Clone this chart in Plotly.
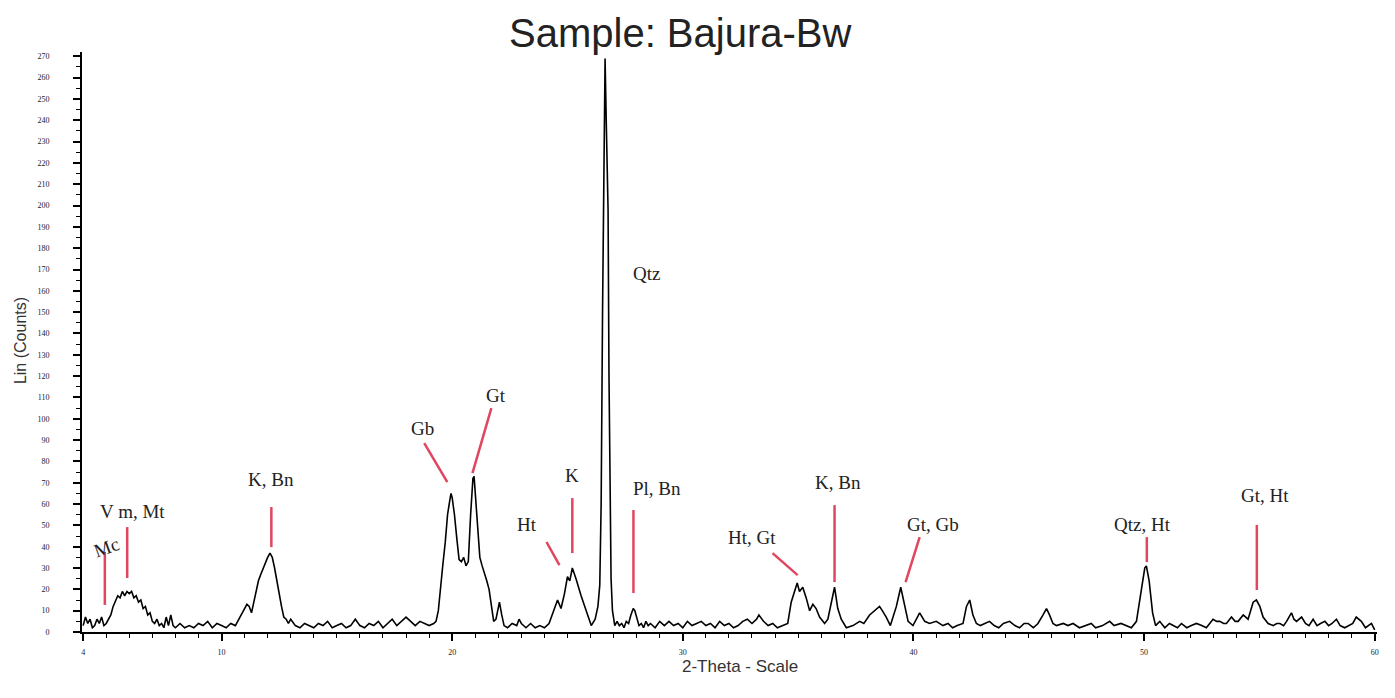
import plotly.graph_objects as go

# ---------------- data ----------------
two_theta = [
    4.0, 4.1, 4.2, 4.3, 4.4, 4.5, 4.6, 4.7, 4.8, 4.9, 5.0, 5.1, 5.2, 5.3, 5.4, 5.5, 5.6, 5.7, 5.8, 5.9,
    6.0, 6.1, 6.2, 6.3, 6.4, 6.5, 6.6, 6.7, 6.8, 6.9, 7.0, 7.1, 7.2, 7.3, 7.4, 7.5, 7.6, 7.7, 7.8, 7.9,
    8.0, 8.2, 8.4, 8.6, 8.8, 9.0, 9.2, 9.4, 9.6, 9.8, 10.0, 10.2, 10.4, 10.6, 10.8,
    10.9, 11.0, 11.1, 11.2, 11.3, 11.4, 11.5, 11.6, 11.7, 11.8, 11.9, 12.0, 12.1, 12.2, 12.3, 12.4, 12.5,
    12.6, 12.7, 12.8, 12.9, 13.0,
    13.2, 13.4, 13.6, 13.8, 14.0, 14.2, 14.4, 14.6, 14.8, 15.0, 15.2, 15.4, 15.6, 15.8, 16.0, 16.2, 16.4,
    16.6, 16.8, 17.0, 17.2, 17.4, 17.6, 17.8, 18.0, 18.2, 18.4, 18.6, 18.8, 19.0, 19.2,
    19.3, 19.4, 19.5, 19.6, 19.7, 19.8, 19.9, 19.95, 20.0, 20.1, 20.2, 20.3, 20.4, 20.5, 20.6, 20.7, 20.8,
    20.9, 20.95, 21.0, 21.1, 21.2, 21.3, 21.4, 21.5, 21.6, 21.7, 21.8, 21.9, 22.0, 22.05, 22.15, 22.25, 22.4,
    22.6, 22.8, 22.9, 23.0, 23.2, 23.4, 23.6, 23.8, 24.0, 24.2,
    24.3, 24.43, 24.57, 24.72, 24.87, 25.0, 25.1, 25.21, 25.37, 25.59, 25.81, 26.03, 26.2,
    26.32, 26.4, 26.46, 26.52, 26.58, 26.63, 26.68, 26.72, 26.76, 26.8, 26.84, 26.89, 26.95, 27.05,
    27.15, 27.25, 27.35, 27.45, 27.55, 27.65, 27.75, 27.85, 27.92, 28.0, 28.1, 28.2, 28.3, 28.4, 28.5,
    28.6, 28.8, 29.0, 29.2, 29.4, 29.6, 29.8, 30.0, 30.2, 30.4, 30.6, 30.8, 31.0, 31.2, 31.4, 31.6, 31.8,
    32.0, 32.2, 32.4, 32.6, 32.8, 33.0, 33.2, 33.3, 33.5, 33.7, 33.9, 34.1, 34.3, 34.55,
    34.7, 34.85, 34.96, 35.06, 35.2, 35.35, 35.5, 35.64, 35.78, 35.93, 36.15, 36.29, 36.44, 36.58, 36.72,
    36.87, 37.09, 37.38, 37.67, 37.85, 38.1, 38.3, 38.53, 38.65, 38.82, 39.0, 39.26, 39.45, 39.62, 39.77,
    39.98, 40.27, 40.49, 40.7, 40.99, 41.28, 41.5, 41.7, 41.9, 42.15, 42.3, 42.44, 42.58, 42.73, 42.9,
    43.1, 43.3, 43.5, 43.7, 43.9, 44.17, 44.4, 44.6, 44.8, 44.97, 45.2, 45.4, 45.62, 45.77, 45.9,
    46.05, 46.2, 46.5, 46.7, 46.92, 47.2, 47.5, 47.71, 47.9, 48.2, 48.51, 48.7, 49.0, 49.2, 49.45, 49.67,
    49.89, 50.03, 50.1, 50.22, 50.37, 50.5, 50.68, 50.9, 51.1, 51.26, 51.45, 51.62, 51.85, 52.05, 52.27,
    52.5, 52.7, 52.99, 53.15, 53.28, 53.45, 53.57, 53.79, 53.95, 54.08, 54.3, 54.51, 54.73, 54.87, 55.02,
    55.16, 55.38, 55.6, 55.75, 55.89, 56.05, 56.18, 56.39, 56.5, 56.61, 56.83, 57.0, 57.15, 57.33, 57.5,
    57.65, 57.84, 58.0, 58.15, 58.34, 58.5, 58.7, 58.9, 59.05, 59.2, 59.42, 59.6, 59.75, 59.86, 60.0,
]

counts = [
    3, 7, 4, 6, 2, 3, 6, 4, 7, 3, 4, 6, 8, 12, 15, 17, 16, 19, 17, 19,
    18, 19, 16, 17, 14, 15, 11, 12, 8, 9, 5, 4, 6, 3, 4, 2, 7, 3, 8, 3,
    2, 4, 2, 3, 2, 4, 3, 5, 2, 4, 3, 2, 4, 3, 7,
    9, 11, 13, 12, 9, 14, 19, 24, 27, 30, 33, 35, 37, 35, 30, 24, 17,
    12, 7, 6, 4, 6,
    3, 2, 4, 3, 2, 4, 3, 5, 2, 3, 4, 2, 3, 6, 3, 2, 4,
    3, 5, 2, 4, 6, 3, 5, 7, 5, 3, 5, 4, 3, 4,
    5, 10, 22, 32, 42, 55, 62, 65, 63, 55, 44, 34, 33, 35, 31, 33, 55,
    72, 73, 66, 48, 35, 31, 28, 24, 20, 12, 5, 6, 12, 14, 8, 3, 2,
    4, 3, 6, 4, 2, 4, 2, 3, 2, 4,
    7, 10, 15, 11, 18, 26, 24, 30, 25, 17, 10, 3, 6,
    12, 22, 60, 150, 240, 269, 240, 205, 198, 120, 60, 25, 10, 3,
    5, 3, 4, 2, 5, 4, 8, 11, 10, 7, 3, 4, 2, 5, 3,
    4, 2, 5, 3, 5, 3, 4, 2, 5, 3, 4, 5, 3, 4, 2, 5, 3,
    4, 2, 3, 5, 6, 4, 6, 8, 5, 3, 4, 2, 3, 4,
    14, 19, 23, 19, 21, 16, 10, 13, 11, 7, 4, 6, 13, 21, 11,
    6, 2, 3, 5, 4, 8, 10, 12, 10, 7, 3, 12, 21, 12, 5,
    3, 9, 5, 4, 5, 3, 4, 2, 3, 4, 12, 15, 8, 4, 3,
    4, 5, 3, 2, 4, 5, 3, 2, 4, 4, 2, 4, 8, 11, 8,
    4, 3, 4, 3, 4, 2, 3, 4, 2, 3, 5, 3, 4, 3, 2, 5,
    21, 30, 31, 24, 9, 3, 5, 2, 4, 3, 2, 4, 2, 3, 4,
    3, 2, 6, 5, 5, 4, 4, 7, 5, 5, 8, 6, 14, 15, 12,
    7, 4, 3, 4, 4, 3, 5, 9, 6, 5, 7, 4, 3, 6, 3,
    4, 5, 3, 4, 6, 3, 2, 3, 4, 7, 5, 2, 3, 4, 1,
]
assert len(two_theta) == len(counts), (len(two_theta), len(counts))

# phase labels: text, x, y (data units)
label_text = ["Mc", "V m, Mt", "K, Bn", "Gb", "Gt", "Ht", "K", "Pl, Bn", "Qtz",
              "Ht, Gt", "K, Bn", "Gt, Gb", "Qtz, Ht", "Gt, Ht"]
label_x = [5.0, 6.13, 12.16, 18.71, 21.92, 23.26, 25.21, 28.9, 28.43,
           32.98, 36.71, 40.83, 49.94, 55.24]
label_y = [39.4, 56.3, 71.3, 95.6, 111.1, 50.2, 73.6, 67.5, 168.3,
           44.5, 69.9, 50.2, 50.2, 64.2]
label_angle = [-20, 0, 0, 0, 0, 0, 0, 0, 0, 0, 0, 0, 0, 0]

# red indicator lines: start and end points (data units)
tick_x0 = [4.94, 5.91, 12.16, 18.79, 21.70, 24.09, 25.21, 27.86, 33.89, 36.58, 40.27, 50.12, 54.89]
tick_y0 = [37.5, 49.2, 58.6, 88.6, 105.0, 42.2, 62.8, 57.2, 37.0, 59.5, 44.5, 44.5, 50.2]
tick_x1 = [4.94, 5.91, 12.16, 19.79, 20.88, 24.65, 25.21, 27.86, 34.98, 36.58, 39.66, 50.12, 54.89]
tick_y1 = [12.7, 25.3, 39.8, 70.3, 74.5, 31.4, 37.0, 18.3, 26.7, 23.4, 23.4, 32.8, 19.7]

x_major = [4, 10, 20, 30, 40, 50, 60]
x_minor = [v for v in range(5, 60) if v not in x_major]
y_major = list(range(0, 271, 10))
y_minor = list(range(5, 270, 10))

# ---------------- figure ----------------
fig = go.Figure()
fig.add_trace(go.Scatter(
    x=two_theta, y=counts, mode="lines",
    line=dict(color="black", width=1.6), hoverinfo="x+y", showlegend=False,
))

red = "#e0465f"
for x0, y0, x1, y1 in zip(tick_x0, tick_y0, tick_x1, tick_y1):
    fig.add_shape(type="line", xref="x", yref="y", x0=x0, y0=y0, x1=x1, y1=y1,
                  line=dict(color=red, width=2.5))

for t, x, y, a in zip(label_text, label_x, label_y, label_angle):
    fig.add_annotation(x=x, y=y, xref="x", yref="y", text=t, showarrow=False,
                       textangle=a, xanchor="center", yanchor="middle",
                       font=dict(family="Liberation Serif, Times New Roman, serif",
                                 size=19, color="#222222"))

# short extension of the baseline to the left of the y axis
fig.add_shape(type="line", xref="x", yref="y", x0=3.45, y0=0, x1=3.95, y1=0,
              line=dict(color="black", width=2))

fig.add_annotation(text="Sample: Bajura-Bw", xref="paper", yref="paper",
                   x=0.462, y=1.033, showarrow=False, xanchor="center", yanchor="middle",
                   font=dict(family="Liberation Sans, Arial, sans-serif", size=40, color="#222222"))
fig.add_annotation(text="2-Theta - Scale", xref="paper", yref="paper",
                   x=0.508, y=-0.059, showarrow=False, xanchor="center", yanchor="middle",
                   font=dict(family="Liberation Sans, Arial, sans-serif", size=17, color="#333333"))
fig.add_annotation(text="Lin (Counts)", xref="paper", yref="paper",
                   x=-0.048, y=0.503, showarrow=False, textangle=-90,
                   xanchor="center", yanchor="middle",
                   font=dict(family="Liberation Sans, Arial, sans-serif", size=16, color="#333333"))

tickfont = dict(family="Liberation Serif, Times New Roman, serif", size=8, color="#222222")
fig.update_xaxes(
    range=[3.95, 60.1], tickmode="array", tickvals=x_major, ticktext=[str(v) for v in x_major],
    ticks="outside", ticklen=7, tickwidth=1.5, tickcolor="black",
    minor=dict(tickmode="array", tickvals=x_minor, ticks="outside", ticklen=4,
               tickwidth=1.2, tickcolor="black"),
    showline=True, linecolor="black", linewidth=2, showgrid=False, zeroline=False,
    tickfont=tickfont, ticklabelstandoff=4,
)
fig.update_yaxes(
    range=[0, 272], tickmode="array", tickvals=y_major, ticktext=[str(v) for v in y_major],
    ticks="outside", ticklen=7, tickwidth=1.5, tickcolor="black",
    minor=dict(tickmode="array", tickvals=y_minor, ticks="outside", ticklen=4,
               tickwidth=1.2, tickcolor="black"),
    showline=True, linecolor="black", linewidth=2, showgrid=False, zeroline=False,
    tickfont=tickfont, ticklabelstandoff=22,
)
fig.update_layout(
    width=1395, height=698,
    margin=dict(l=82, r=18, t=52, b=66),
    paper_bgcolor="white", plot_bgcolor="white",
    showlegend=False,
)

fig.write_html("out.html")
